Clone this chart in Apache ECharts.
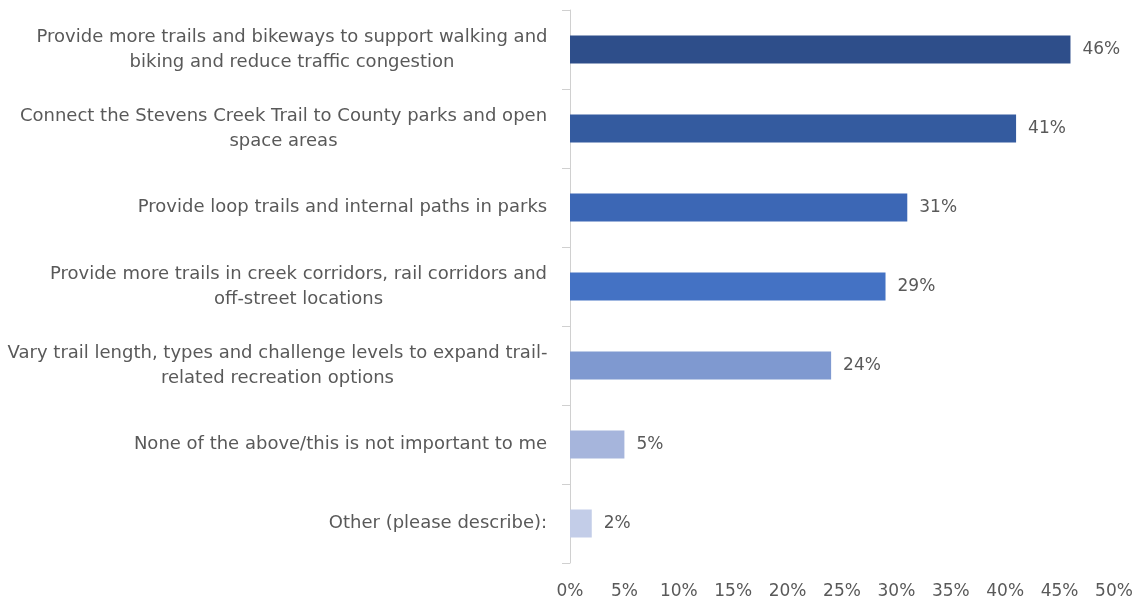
<!DOCTYPE html>
<html><head><meta charset="utf-8">
<script src="https://cdn.jsdelivr.net/npm/echarts@6/dist/echarts.min.js"></script>
<style>html,body{margin:0;padding:0;background:#fff}#c{width:1147px;height:600px}</style>
</head><body><div id="c"></div>
<script>
var categories = [
  "Provide more trails and bikeways to support walking and\nbiking and reduce traffic congestion",
  "Connect the Stevens Creek Trail to County parks and open\nspace areas",
  "Provide loop trails and internal paths in parks",
  "Provide more trails in creek corridors, rail corridors and\noff-street locations",
  "Vary trail length, types and challenge levels to expand trail-\nrelated recreation options",
  "None of the above/this is not important to me",
  "Other (please describe):"
];
var values = [46, 41, 31, 29, 24, 5, 2];
var barColors = ["#2E4E8A", "#345B9F", "#3C67B5", "#4472C4", "#7F99D0", "#A6B5DC", "#C3CDE8"];
var xTicks = [0, 5, 10, 15, 20, 25, 30, 35, 40, 45, 50];

var FONT = "'DejaVu Sans', Verdana, sans-serif";
var FS = 17;
var FS_CAT = 18;
var ctx = document.createElement('canvas').getContext('2d');
ctx.font = FS_CAT + "px " + FONT;
var rich = {};
categories.forEach(function (c, i) {
  var w = 0;
  c.split('\n').forEach(function (l) { w = Math.max(w, ctx.measureText(l).width); });
  rich['r' + i] = { width: Math.ceil(w) + 1, align: 'center', fontSize: FS_CAT, fontFamily: FONT, color: '#595959', lineHeight: 25 };
});

var chart = echarts.init(document.getElementById('c'));
chart.setOption({
  animation: false,
  grid: { left: 570, right: 33, top: 10, bottom: 37, containLabel: false },
  xAxis: {
    type: 'value', min: 0, max: 50, interval: 5,
    axisLine: { show: false }, axisTick: { show: false }, splitLine: { show: false },
    axisLabel: { formatter: '{value}%', color: '#595959', fontSize: FS, fontFamily: FONT, margin: 20 }
  },
  yAxis: {
    type: 'category', inverse: true, data: categories,
    axisLine: { show: true, lineStyle: { color: '#D0D0D0', width: 1 } },
    axisTick: { show: true, length: 8, lineStyle: { color: '#D0D0D0' } },
    axisLabel: {
      margin: 22, align: 'right',
      formatter: function (v, i) {
        return v.split('\n').map(function (l) { return '{r' + i + '|' + l + '}'; }).join('\n');
      },
      rich: rich
    }
  },
  series: [{
    type: 'bar', barWidth: 28,
    data: values.map(function (v, i) { return { value: v, itemStyle: { color: barColors[i] } }; }),
    label: { show: true, position: 'right', distance: 12, formatter: '{c}%', color: '#595959', fontSize: FS, fontFamily: FONT }
  }]
});
</script></body></html>
